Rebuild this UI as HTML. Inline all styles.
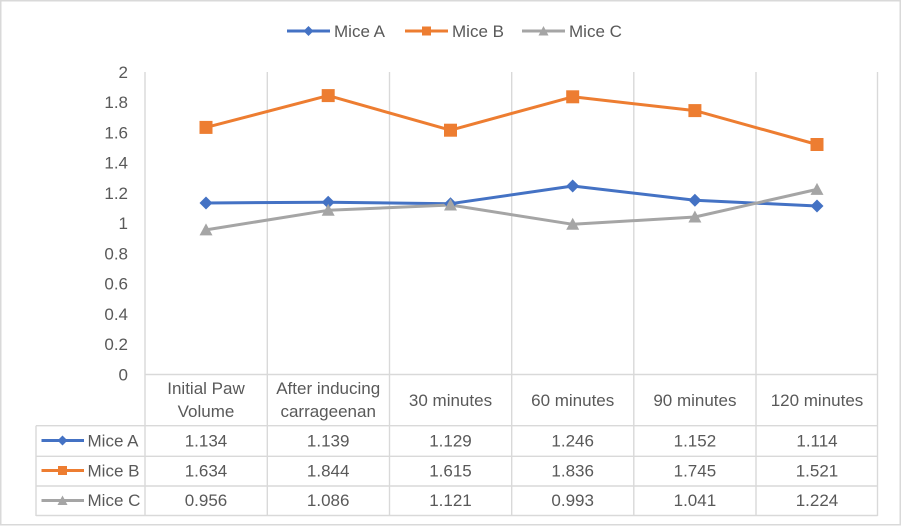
<!DOCTYPE html>
<html><head><meta charset="utf-8"><style>
html,body{margin:0;padding:0;background:#fff;}
svg{display:block;}
text{font-family:"Liberation Sans",sans-serif;fill:#595959;font-size:17px;}
</style></head><body>
<svg width="902" height="527" viewBox="0 0 902 527" xmlns="http://www.w3.org/2000/svg">
<rect x="0.75" y="0.75" width="899.5" height="524" fill="#fff" stroke="#d9d9d9" stroke-width="1.5"/>
<!-- legend -->
<g stroke-width="3" fill="none">
<line x1="287" y1="31" x2="330" y2="31" stroke="#4472C4"/>
<line x1="405" y1="31" x2="448" y2="31" stroke="#ED7D31"/>
<line x1="522" y1="31" x2="565" y2="31" stroke="#A5A5A5"/>
</g>
<polygon points="308.5,26 313.5,31 308.5,36 303.5,31" fill="#4472C4"/>
<rect x="422" y="26.5" width="9" height="9" fill="#ED7D31"/>
<polygon points="543.5,26 548.5,35.5 538.5,35.5" fill="#A5A5A5"/>
<text x="334" y="37">Mice A</text>
<text x="452" y="37">Mice B</text>
<text x="569" y="37">Mice C</text>
<!-- grid -->
<g stroke="#d9d9d9" stroke-width="1.4">
<line x1="145" y1="72" x2="145" y2="516"/>
<line x1="267.3" y1="72" x2="267.3" y2="516"/>
<line x1="389.5" y1="72" x2="389.5" y2="516"/>
<line x1="511.7" y1="72" x2="511.7" y2="516"/>
<line x1="633.8" y1="72" x2="633.8" y2="516"/>
<line x1="756" y1="72" x2="756" y2="516"/>
<line x1="877.5" y1="72" x2="877.5" y2="516"/>
<line x1="145" y1="374.5" x2="877.5" y2="374.5"/>
<line x1="36" y1="425.7" x2="877.5" y2="425.7"/>
<line x1="36" y1="456.3" x2="877.5" y2="456.3"/>
<line x1="36" y1="486" x2="877.5" y2="486"/>
<line x1="36" y1="515.5" x2="877.5" y2="515.5"/>
<line x1="36" y1="425.7" x2="36" y2="516"/>
</g>
<!-- y labels -->
<g text-anchor="end">
<text x="128" y="78">2</text>
<text x="128" y="108">1.8</text>
<text x="128" y="138.5">1.6</text>
<text x="128" y="168.5">1.4</text>
<text x="128" y="199">1.2</text>
<text x="128" y="229">1</text>
<text x="128" y="259.5">0.8</text>
<text x="128" y="289.5">0.6</text>
<text x="128" y="320">0.4</text>
<text x="128" y="350">0.2</text>
<text x="128" y="380.5">0</text>
</g>
<!-- series -->
<polyline fill="none" stroke="#4472C4" stroke-width="3" stroke-linejoin="round" points="206,203 328.2,202.2 450.5,203.7 572.7,186 694.9,200.3 817,206"/>
<polyline fill="none" stroke="#ED7D31" stroke-width="3" stroke-linejoin="round" points="206,127.4 328.2,95.6 450.5,130.2 572.7,96.8 694.9,110.6 817,144.5"/>
<polyline fill="none" stroke="#A5A5A5" stroke-width="3" stroke-linejoin="round" points="206,229.9 328.2,210.3 450.5,205 572.7,224.3 694.9,217 817,189.4"/>
<g fill="#4472C4">
<polygon points="206,196.5 212.5,203 206,209.5 199.5,203"/>
<polygon points="328.2,195.7 334.7,202.2 328.2,208.7 321.7,202.2"/>
<polygon points="450.5,197.2 457,203.7 450.5,210.2 444,203.7"/>
<polygon points="572.7,179.5 579.2,186 572.7,192.5 566.2,186"/>
<polygon points="694.9,193.8 701.4,200.3 694.9,206.8 688.4,200.3"/>
<polygon points="817,199.5 823.5,206 817,212.5 810.5,206"/>
</g>
<g fill="#ED7D31">
<rect x="199.5" y="120.9" width="13" height="13"/>
<rect x="321.7" y="89.1" width="13" height="13"/>
<rect x="444" y="123.7" width="13" height="13"/>
<rect x="566.2" y="90.3" width="13" height="13"/>
<rect x="688.4" y="104.1" width="13" height="13"/>
<rect x="810.5" y="138" width="13" height="13"/>
</g>
<g fill="#A5A5A5">
<polygon points="206,223.4 212.5,235.4 199.5,235.4"/>
<polygon points="328.2,203.8 334.7,215.8 321.7,215.8"/>
<polygon points="450.5,198.5 457,210.5 444,210.5"/>
<polygon points="572.7,217.8 579.2,229.8 566.2,229.8"/>
<polygon points="694.9,210.5 701.4,222.5 688.4,222.5"/>
<polygon points="817,182.9 823.5,194.9 810.5,194.9"/>
</g>
<!-- table header -->
<g text-anchor="middle">
<text x="206" y="394">Initial Paw</text>
<text x="206" y="417">Volume</text>
<text x="328.2" y="394">After inducing</text>
<text x="328.2" y="417">carrageenan</text>
<text x="450.5" y="406">30 minutes</text>
<text x="572.7" y="406">60 minutes</text>
<text x="694.9" y="406">90 minutes</text>
<text x="817" y="406">120 minutes</text>
<text x="206" y="446.5">1.134</text>
<text x="328.2" y="446.5">1.139</text>
<text x="450.5" y="446.5">1.129</text>
<text x="572.7" y="446.5">1.246</text>
<text x="694.9" y="446.5">1.152</text>
<text x="817" y="446.5">1.114</text>
<text x="206" y="476.5">1.634</text>
<text x="328.2" y="476.5">1.844</text>
<text x="450.5" y="476.5">1.615</text>
<text x="572.7" y="476.5">1.836</text>
<text x="694.9" y="476.5">1.745</text>
<text x="817" y="476.5">1.521</text>
<text x="206" y="506">0.956</text>
<text x="328.2" y="506">1.086</text>
<text x="450.5" y="506">1.121</text>
<text x="572.7" y="506">0.993</text>
<text x="694.9" y="506">1.041</text>
<text x="817" y="506">1.224</text>
</g>
<!-- table legend keys -->
<g stroke-width="3">
<line x1="41.5" y1="440.5" x2="84" y2="440.5" stroke="#4472C4"/>
<line x1="41.5" y1="470.5" x2="84" y2="470.5" stroke="#ED7D31"/>
<line x1="41.5" y1="500.5" x2="84" y2="500.5" stroke="#A5A5A5"/>
</g>
<polygon points="62.5,435.5 67.5,440.5 62.5,445.5 57.5,440.5" fill="#4472C4"/>
<rect x="58" y="466" width="9" height="9" fill="#ED7D31"/>
<polygon points="62.5,495.5 67.5,505 57.5,505" fill="#A5A5A5"/>
<text x="87.5" y="446.5">Mice A</text>
<text x="87.5" y="476.5">Mice B</text>
<text x="87.5" y="506">Mice C</text>
</svg>
</body></html>
